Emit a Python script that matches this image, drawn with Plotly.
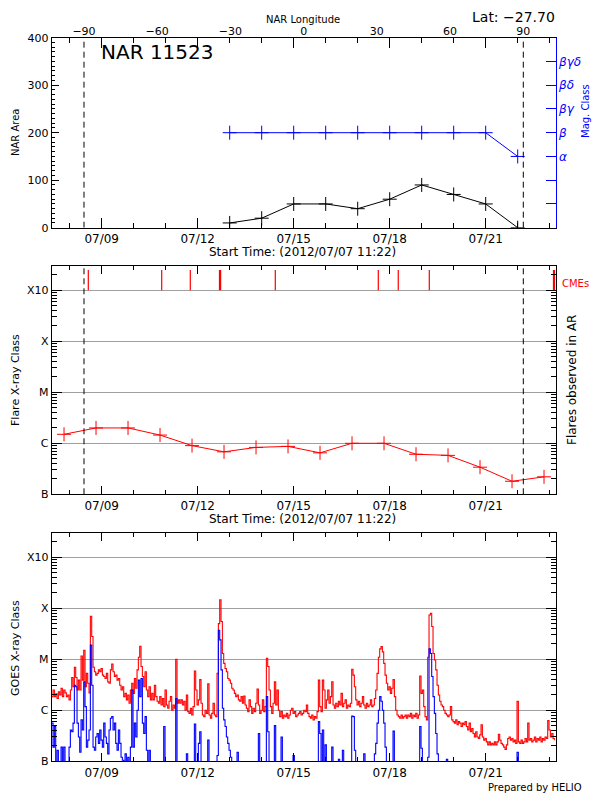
import numpy as np
import pandas as pd
import plotly.graph_objects as go

# ---------------- data ----------------
# NOAA active region 11523 (daily)
nar_dates = ["2012-07-13", "2012-07-14", "2012-07-15", "2012-07-16", "2012-07-17",
             "2012-07-18", "2012-07-19", "2012-07-20", "2012-07-21", "2012-07-22"]
nar_area = [10, 20, 50, 50, 40, 60, 90, 70, 50, 0]
mag_class = ["β", "β", "β", "β", "β", "β", "β", "β", "β", "α"]
mag_labels = ["α", "β", "βγ", "βδ", "βγδ"]

# limb passages (longitude -90 / +90)
limb_times = ["2012-07-08 10:43", "2012-07-22 04:12"]
limb_lons = [-90, 90]
lon_ticks = [-90, -60, -30, 0, 30, 60, 90]

# flares observed in AR (W/m^2)
flare_dates = ["2012-07-07 19:45", "2012-07-08 19:45", "2012-07-09 19:45", "2012-07-10 19:45",
               "2012-07-11 19:45", "2012-07-12 19:45", "2012-07-13 19:45", "2012-07-14 19:45",
               "2012-07-15 19:45", "2012-07-16 19:45", "2012-07-17 19:45", "2012-07-18 19:45",
               "2012-07-19 19:45", "2012-07-20 19:45", "2012-07-21 19:45", "2012-07-22 19:45"]
flare_flux = [1.5e-6, 2.0e-6, 2.0e-6, 1.45e-6, 9.0e-7, 6.8e-7, 8.3e-7, 8.7e-7,
              6.5e-7, 1.0e-6, 1.0e-6, 6.1e-7, 5.8e-7, 3.4e-7, 1.8e-7, 2.2e-7]

# CME times
cme_times = ["2012-07-08 13:57", "2012-07-10 21:00", "2012-07-11 18:27", "2012-07-12 16:20",
             "2012-07-12 17:10", "2012-07-14 10:12", "2012-07-17 15:27", "2012-07-18 06:25",
             "2012-07-19 05:42", "2012-07-23 02:50", "2012-07-23 03:35"]

# GOES hourly fluxes, in units of 1e-6 W/m^2 (C1 = 1)
goes_start = "2012-07-07 10:30"
goes_long = [
    1.85, 2.5, 1.85, 2.1, 1.7, 2.3, 2.0, 2.7, 1.85, 2.5,
    2.2, 1.85, 2.0, 1.6, 2.5, 4.4, 2.9, 7.0, 4.4, 2.5,
    3.9, 2.5, 11.6, 3.9, 15, 2.9, 5.3, 3.4, 2.2, 70,
    28, 7, 5.7, 4.9, 5.3, 6.2, 5.7, 6.6, 4.9, 4.6,
    4.2, 5.3, 3.6, 3.4, 6.2, 8.1, 5.7, 4.6, 4.9, 3.9,
    4.2, 3.1, 2.5, 2.9, 1.85, 2.15, 1.6, 2.0, 1.37, 2.5,
    3.4, 2.15, 4.2, 2.7, 6.2, 11, 18, 7.2, 4.6, 2.9,
    5.7, 2.5, 1.85, 2.9, 1.6, 2.15, 1.6, 3.1, 1.85, 1.5,
    1.37, 1.85, 1.27, 1.7, 1.18, 2.5, 1.27, 1.1, 1.5, 1.85,
    1.0, 1.27, 1.1, 10, 1.37, 1.6, 1.37, 1.6, 1.27, 1.5,
    1.0, 2.0, 0.94, 0.87, 1.1, 0.81, 1.18, 5.9, 2.5, 1.27,
    1.6, 4.0, 1.37, 0.81, 0.75, 1.0, 0.87, 3.3, 0.81, 0.7,
    0.87, 1.37, 0.81, 0.75, 5.3, 50, 146, 55, 13, 8.3,
    6.6, 5.7, 4.2, 3.9, 3.4, 2.7, 2.5, 2.15, 1.85, 2.0,
    1.6, 1.5, 1.85, 1.37, 1.9, 1.27, 1.1, 0.94, 1.6, 1.18,
    0.87, 1.1, 0.94, 1.37, 2.6, 1.27, 0.87, 1.0, 1.6, 0.94,
    1.18, 10.5, 7.2, 2.5, 1.18, 0.87, 1.37, 3.6, 1.27, 2.5,
    1.0, 0.75, 0.94, 0.7, 0.81, 0.75, 0.87, 0.7, 0.81, 1.0,
    1.1, 0.87, 0.94, 0.75, 0.81, 0.87, 0.94, 0.81, 0.87, 1.0,
    0.94, 1.27, 0.87, 0.75, 0.7, 0.81, 0.65, 0.75, 0.7, 0.94,
    3.9, 1.18, 0.94, 3.9, 2.5, 1.1, 1.6, 2.5, 1.37, 1.85,
    3.6, 1.27, 1.1, 1.37, 1.18, 1.5, 1.27, 2.15, 1.18, 1.37,
    1.6, 1.1, 1.27, 1.18, 1.37, 6.4, 4.9, 2.9, 1.6, 1.27,
    1.5, 1.18, 1.37, 1.85, 1.27, 1.1, 1.37, 1.18, 1.27, 1.6,
    1.18, 1.27, 1.7, 2.5, 5.3, 11, 16, 17.7, 14, 8.3,
    4.9, 3.4, 2.5, 2.9, 2.15, 2.7, 4.0, 1.85, 1.0, 0.81,
    0.75, 0.7, 0.81, 0.7, 0.75, 0.81, 0.7, 0.81, 0.75, 0.87,
    0.7, 0.81, 0.75, 0.87, 0.7, 0.81, 4.7, 2.15, 2.5, 1.18,
    0.75, 0.65, 11, 74, 80, 44, 13, 9.7, 6.2, 3.1,
    2.0, 1.5, 1.27, 1.18, 1.0, 0.87, 0.81, 0.75, 0.81, 1.18,
    0.65, 0.6, 0.56, 0.65, 0.52, 0.6, 0.56, 0.48, 0.56, 0.52,
    0.6, 0.48, 0.41, 0.56, 0.38, 0.44, 0.35, 0.3, 0.38, 0.3,
    0.28, 0.33, 0.52, 0.3, 0.26, 0.28, 0.24, 0.21, 0.24, 0.21,
    0.225, 0.21, 0.24, 0.21, 0.24, 0.34, 0.26, 0.225, 0.21, 0.19,
    0.17, 0.21, 0.28, 0.3, 0.26, 0.28, 0.24, 0.26, 0.225, 1.5,
    0.24, 0.225, 0.26, 0.225, 0.24, 0.28, 0.24, 0.56, 0.26, 0.28,
    0.24, 0.26, 0.3, 0.24, 0.28, 0.26, 0.3, 0.24, 0.28, 0.26,
    0.3, 0.28, 0.63, 0.41, 0.3, 0.35, 0.28, 0.26,
]
goes_short = [
    0.56, 0.19, 0.48, 0.09, 0.165, 0.09, 0.09, 0.19, 0.09, 0.19,
    0.09, 0.09, 0.09, 0.19, 0.41, 0.38, 0.56, 3.1, 2.9, 0.56,
    0.3, 0.15, 0.65, 0.41, 3.6, 1.18, 0.19, 0.26, 0.41, 19,
    3.1, 0.19, 0.165, 0.3, 0.35, 0.225, 0.41, 0.26, 0.19, 0.56,
    0.3, 0.225, 0.14, 0.41, 0.7, 0.75, 0.41, 0.56, 0.225, 0.165,
    0.41, 0.225, 0.12, 0.105, 0.09, 0.14, 0.09, 0.12, 0.09, 0.19,
    2.5, 0.19, 0.56, 0.3, 1.0, 3.9, 1.85, 4.2, 0.56, 0.35,
    0.75, 0.165, 0.09, 0.165, 0.09, 0.09, 0.09, 0.09, 0.09, 0.09,
    0.09, 0.09, 0.09, 0.09, 0.48, 0.09, 0.09, 0.09, 0.09, 0.09,
    0.09, 0.09, 0.09, 1.7, 0.09, 0.09, 0.09, 0.09, 0.09, 0.09,
    0.09, 0.14, 0.09, 0.09, 0.09, 0.09, 0.09, 0.54, 0.09, 0.09,
    0.225, 0.38, 0.09, 0.09, 0.09, 0.09, 0.09, 0.26, 0.09, 0.09,
    0.09, 0.09, 0.09, 0.09, 0.13, 37, 24, 6.2, 1.1, 0.65,
    0.48, 0.3, 0.225, 0.165, 0.12, 0.09, 0.09, 0.09, 0.09, 0.15,
    0.09, 0.09, 0.09, 0.09, 0.09, 0.09, 0.09, 0.09, 0.09, 0.09,
    0.09, 0.09, 0.09, 0.09, 0.09, 0.35, 0.09, 0.09, 0.09, 0.09,
    0.09, 1.85, 0.38, 0.09, 0.09, 0.09, 0.09, 0.5, 0.09, 0.09,
    0.09, 0.09, 0.3, 0.09, 0.09, 0.09, 0.09, 0.09, 0.09, 0.09,
    0.09, 0.13, 0.09, 0.09, 0.09, 0.09, 0.09, 0.09, 0.09, 0.09,
    0.09, 0.09, 0.09, 0.09, 0.09, 0.09, 0.09, 0.09, 0.09, 0.09,
    0.6, 0.35, 0.09, 0.41, 0.09, 0.21, 0.09, 0.09, 0.09, 0.09,
    0.19, 0.09, 0.09, 0.09, 0.09, 0.11, 0.09, 0.09, 0.165, 0.09,
    0.09, 0.09, 0.09, 0.09, 0.09, 0.77, 0.75, 0.165, 0.09, 0.09,
    0.09, 0.09, 0.09, 0.09, 0.14, 0.09, 0.09, 0.09, 0.09, 0.09,
    0.09, 0.09, 0.14, 0.225, 0.56, 1.0, 1.85, 1.5, 1.0, 0.56,
    0.19, 0.09, 0.09, 0.09, 0.09, 0.09, 0.39, 0.09, 0.09, 0.09,
    0.09, 0.09, 0.09, 0.09, 0.09, 0.09, 0.09, 0.09, 0.09, 0.09,
    0.09, 0.09, 0.09, 0.09, 0.09, 0.09, 0.48, 0.18, 0.09, 0.09,
    0.09, 0.09, 0.12, 16, 13, 4.6, 1.85, 0.87, 0.35, 0.14,
    0.09, 0.09, 0.09, 0.09, 0.09, 0.09, 0.11, 0.09, 0.09, 0.09,
    0.09, 0.09, 0.09, 0.09, 0.09, 0.09, 0.09, 0.09, 0.09, 0.09,
    0.09, 0.09, 0.09, 0.09, 0.09, 0.09, 0.09, 0.09, 0.09, 0.09,
    0.09, 0.09, 0.09, 0.09, 0.09, 0.09, 0.09, 0.09, 0.09, 0.09,
    0.09, 0.09, 0.09, 0.09, 0.09, 0.09, 0.09, 0.09, 0.09, 0.09,
    0.09, 0.09, 0.09, 0.09, 0.09, 0.09, 0.09, 0.09, 0.09, 0.15,
    0.09, 0.09, 0.09, 0.09, 0.09, 0.09, 0.09, 0.09, 0.09, 0.09,
    0.09, 0.09, 0.09, 0.09, 0.09, 0.09, 0.09, 0.09, 0.09, 0.09,
    0.09, 0.09, 0.09, 0.09, 0.09, 0.09, 0.09, 0.09,
]

date_ticks = ["2012-07-09", "2012-07-12", "2012-07-15", "2012-07-18", "2012-07-21"]
date_labels = ["07/09", "07/12", "07/15", "07/18", "07/21"]
class_vals = [1e-7, 1e-6, 1e-5, 1e-4, 1e-3]
class_labels = ["B", "C", "M", "X", "X10"]

# ---------------- geometry / style ----------------
OFF = 8                      # page body margin of the viewer
W, H = 600 - OFF, 800 - OFF  # figure size so it fits the window
FONT = "DejaVu Sans"
X_RANGE = ["2012-07-07 10:30", "2012-07-23 04:30"]
LOG_RANGE = [-7, -2.518]
GRID = "#a0a0a0"


def px(x):
    return (x - OFF) / W


def py(y):
    return 1 - (y - OFF) / H


XDOM = [px(51.7), px(555.7)]

# longitude axis range derived from limb times
t_m90 = pd.Timestamp(limb_times[0])
t_p90 = pd.Timestamp(limb_times[1])
rate = (limb_lons[1] - limb_lons[0]) / ((t_p90 - t_m90).total_seconds())
lon_range = [limb_lons[0] + (pd.Timestamp(X_RANGE[0]) - t_m90).total_seconds() * rate,
             limb_lons[0] + (pd.Timestamp(X_RANGE[1]) - t_m90).total_seconds() * rate]

goes_times = pd.date_range(goes_start, periods=len(goes_long), freq="h")
long_flux = np.array(goes_long) * 1e-6
short_flux = np.array(goes_short) * 1e-6
mag_idx = [mag_labels.index(c) for c in mag_class]

fig = go.Figure()

# panel 1: limb lines on the longitude axis
lx, ly = [], []
for lon in limb_lons:
    lx += [lon, lon, None]
    ly += [0, 400, None]
fig.add_trace(go.Scatter(x=lx, y=ly, xaxis="x4", yaxis="y", mode="lines",
                         line=dict(color="black", width=1, dash="6px,4px")))
fig.add_trace(go.Scatter(x=nar_dates, y=nar_area, xaxis="x", yaxis="y", mode="lines+markers",
                         line=dict(color="black", width=1),
                         marker=dict(symbol="cross-thin", size=10, line=dict(color="black", width=1))))
fig.add_trace(go.Scatter(x=nar_dates, y=mag_idx, xaxis="x", yaxis="y4", mode="lines+markers",
                         line=dict(color="blue", width=1),
                         marker=dict(symbol="cross-thin", size=10, line=dict(color="blue", width=1))))

# panel 2
cx, cy = [], []
for t in cme_times:
    cx += [t, t, None]
    cy += [1e-3, 2.5e-3, None]
fig.add_trace(go.Scatter(x=cx, y=cy, xaxis="x2", yaxis="y2", mode="lines",
                         line=dict(color="red", width=1.2)))
fig.add_trace(go.Scatter(x=flare_dates, y=flare_flux, xaxis="x2", yaxis="y2", mode="lines+markers",
                         line=dict(color="red", width=1),
                         marker=dict(symbol="cross-thin", size=10, line=dict(color="red", width=1))))

# panel 3
fig.add_trace(go.Scatter(x=goes_times, y=long_flux, xaxis="x3", yaxis="y3", mode="lines",
                         line=dict(color="red", width=1.1, shape="hv")))
fig.add_trace(go.Scatter(x=goes_times, y=short_flux, xaxis="x3", yaxis="y3", mode="lines",
                         line=dict(color="blue", width=1.1, shape="hv")))


def xaxis(anchor, major, minor):
    return dict(domain=XDOM, anchor=anchor, type="date", range=X_RANGE, automargin=False,
                tickvals=date_ticks, ticktext=date_labels, ticks="inside", ticklen=major,
                tickcolor="black", showline=True, linecolor="black", linewidth=1,
                mirror="ticks", showgrid=False, zeroline=False,
                tickfont=dict(size=12, color="black", family=FONT),
                minor=dict(ticks="inside", ticklen=minor, dtick=86400000, tick0="2012-07-07",
                           tickcolor="black", showgrid=False))


def logaxis(anchor, dom):
    return dict(domain=dom, anchor=anchor, type="log", range=LOG_RANGE, automargin=False,
                tickvals=class_vals, ticktext=class_labels, ticks="inside", ticklen=10,
                tickcolor="black", showline=True, linecolor="black", linewidth=1,
                mirror="ticks", showgrid=True, gridcolor=GRID, gridwidth=1, zeroline=False,
                tickfont=dict(size=11, color="black", family=FONT),
                minor=dict(ticks="inside", ticklen=5, dtick="D1", tickcolor="black", showgrid=False))


fig.update_layout(
    width=W, height=H, autosize=False,
    margin=dict(l=0, r=0, t=0, b=0, pad=0),
    paper_bgcolor="white", plot_bgcolor="white",
    showlegend=False,
    font=dict(family=FONT, color="black"),
    xaxis=xaxis("y", 10, 5),
    xaxis2=xaxis("y2", 8, 4),
    xaxis3=xaxis("y3", 8, 4),
    xaxis4=dict(overlaying="x", side="top", anchor="y", range=lon_range, automargin=False,
                tickvals=lon_ticks, ticks="", showline=False, showgrid=False, zeroline=False,
                tickfont=dict(size=11, color="black", family=FONT)),
    yaxis=dict(domain=[py(227.7), py(37.7)], anchor="x", range=[0, 400], dtick=100,
               automargin=False,
               ticks="inside", ticklen=7, tickcolor="black", showline=True, linecolor="black",
               linewidth=1, showgrid=False, zeroline=False,
               tickfont=dict(size=11, color="black", family=FONT),
               minor=dict(ticks="inside", ticklen=3, dtick=10, tickcolor="black", showgrid=False)),
    yaxis4=dict(overlaying="y", side="right", anchor="x", range=[-3, 5], automargin=False,
                tickvals=[-2, -1, 0, 1, 2, 3, 4],
                ticktext=["", ""] + ["<i>%s</i>" % m for m in mag_labels],
                ticks="inside", ticklen=10, tickcolor="blue", showline=True, linecolor="blue",
                linewidth=1, showgrid=False, zeroline=False,
                tickfont=dict(size=12, color="blue", family=FONT)),
    yaxis2=logaxis("x2", [py(494.3), py(265.7)]),
    yaxis3=logaxis("x3", [py(761.3), py(532.7)]),
)

# dashed limb lines in the flare panel
for t in limb_times:
    fig.add_shape(type="line", xref="x2", yref="y2 domain", x0=t, x1=t, y0=0, y1=1,
                  line=dict(color="black", width=1, dash="6px,4px"))


def note(text, x, y, size, color="black", angle=0, xanchor="center", yanchor="middle"):
    fig.add_annotation(text=text, x=px(x), y=py(y), xref="paper", yref="paper",
                       showarrow=False, textangle=angle, xanchor=xanchor, yanchor=yanchor,
                       borderpad=0, font=dict(size=size, color=color, family=FONT))


note("NAR 11523", 157, 52, 20)
note("Lat: −27.70", 556, 8, 14, xanchor="right", yanchor="top")
note("NAR Longitude", 303, 20, 10)
note("Start Time: (2012/07/07 11:22)", 302, 252, 12)
note("Start Time: (2012/07/07 11:22)", 302, 519, 12)
note("NAR Area", 15, 133, 10, angle=-90)
note("Mag. Class", 585, 111, 10, color="blue", angle=-90)
note("Flare X-ray Class", 15, 380, 11, angle=-90)
note("Flares observed in AR", 572, 380, 12, angle=-90)
note("CMEs", 561, 283, 10, color="red", xanchor="left")
note("GOES X-ray Class", 15, 648, 11, angle=-90)
note("Prepared by HELIO", 583, 787, 10, xanchor="right")

fig.write_html("out.html")
